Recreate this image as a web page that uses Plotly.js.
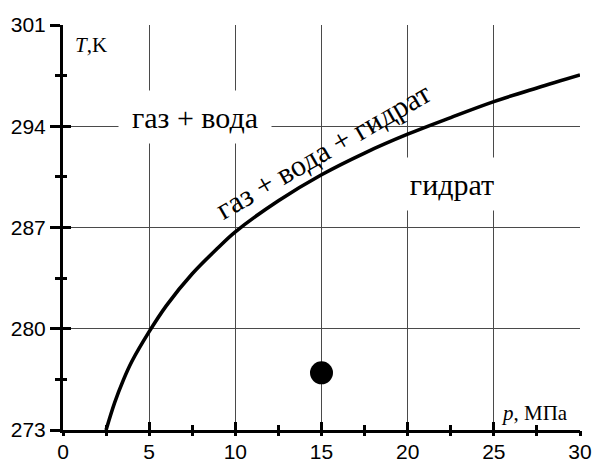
<!DOCTYPE html>
<html><head><meta charset="utf-8">
<script src="https://cdn.plot.ly/plotly-3.0.1.min.js"></script>
<style>html,body{margin:0;padding:0;background:#fff}#plot{width:592px;height:463px}</style>
</head><body><div id="plot"></div>
<script>
// Equilibrium curve gas + water + hydrate
const pressure = [2.5, 3, 3.5, 4, 5, 6, 7.5, 9, 10, 12.5, 15, 17.5, 20, 22.5, 25, 27.5, 30];
const temperature = [273, 274.9, 276.45, 277.75, 279.8, 281.6, 283.8, 285.6, 286.7, 288.85, 290.65, 292.15, 293.45, 294.6, 295.7, 296.65, 297.55];
// state point
const pointP = [15];
const pointT = [276.95];
// ticks
const xTicks = [0, 5, 10, 15, 20, 25, 30];
const yTicks = [273, 280, 287, 294, 301];
// region labels
const labelGasWater = 'газ + вода';
const labelHydrate = 'гидрат';
const labelCurve = 'газ + вода + гидрат';
const labelY = '<i>T</i>,K';
const labelX = '<i>p</i>, МПа';

const serif = 'Liberation Serif';
const sans = 'Liberation Sans';

const traces = [
  {x: pressure, y: temperature, type: 'scatter', mode: 'lines',
   line: {color: '#000', width: 3.6, shape: 'spline', smoothing: 1}, hoverinfo: 'skip'},
  {x: pointP, y: pointT, type: 'scatter', mode: 'markers',
   marker: {color: '#000', size: 23}, hoverinfo: 'skip'},
  {x: pointP, y: pointT, xaxis: 'x2', yaxis: 'y2', type: 'scatter', mode: 'markers',
   marker: {opacity: 0}, hoverinfo: 'skip'}
];

const xr = [0, 30], yr = [273, 301];
const layout = {
  width: 592, height: 463,
  margin: {l: 63, r: 12, t: 25, b: 33},
  paper_bgcolor: '#fff', plot_bgcolor: '#fff',
  showlegend: false,
  xaxis: {range: xr, tickvals: xTicks, ticktext: xTicks.map(String),
    showgrid: true, gridcolor: '#4a4a4a', gridwidth: 1, zeroline: false,
    showline: true, linecolor: '#000', linewidth: 3,
    ticks: 'inside', ticklen: 8, tickwidth: 3, tickcolor: '#000',
    minor: {dtick: 2.5, ticks: 'inside', ticklen: 5, tickwidth: 3, tickcolor: '#000', showgrid: false},
    ticklabelstandoff: 1,
    tickfont: {family: sans, size: 21, color: '#000'}},
  yaxis: {range: yr, tickvals: yTicks, ticktext: yTicks.map(String),
    showgrid: true, gridcolor: '#4a4a4a', gridwidth: 1, zeroline: false,
    showline: true, linecolor: '#000', linewidth: 3,
    ticks: 'outside', ticklen: 10, tickwidth: 3, tickcolor: '#000',
    minor: {dtick: 3.5, ticks: 'outside', ticklen: 5, tickwidth: 3, tickcolor: '#000', showgrid: false},
    tickfont: {family: sans, size: 21, color: '#000'}},
  xaxis2: {overlaying: 'x', anchor: 'y2', range: xr, tickvals: xTicks, showticklabels: false,
    showgrid: false, zeroline: false, showline: false,
    ticks: 'outside', ticklen: 5, tickwidth: 3, tickcolor: '#000',
    minor: {dtick: 2.5, ticks: 'outside', ticklen: 5, tickwidth: 3, tickcolor: '#000', showgrid: false}},
  yaxis2: {overlaying: 'y', anchor: 'x2', range: yr, tickvals: yTicks, showticklabels: false,
    showgrid: false, zeroline: false, showline: false,
    ticks: 'inside', ticklen: 8, tickwidth: 3, tickcolor: '#000',
    minor: {dtick: 3.5, ticks: 'inside', ticklen: 4, tickwidth: 3, tickcolor: '#000', showgrid: false}},
  annotations: [
    {x: 7.66, y: 294.67, xref: 'x', yref: 'y', text: labelGasWater, showarrow: false,
     font: {family: serif, size: 30, color: '#000'}, bgcolor: '#fff', width: 150, height: 50, borderpad: 1},
    {x: 22.6, y: 290.0, xref: 'x', yref: 'y', text: labelHydrate, showarrow: false,
     font: {family: serif, size: 30, color: '#000'}, bgcolor: '#fff', width: 106, height: 50, borderpad: 1},
    {x: 15.1, y: 292.3, xref: 'x', yref: 'y', text: labelCurve, showarrow: false, textangle: -30,
     font: {family: serif, size: 30, color: '#000'}},
    {x: 1.62, y: 299.6, xref: 'x', yref: 'y', text: labelY, showarrow: false,
     font: {family: serif, size: 21, color: '#000'}},
    {x: 27.35, y: 274.2, xref: 'x', yref: 'y', text: labelX, showarrow: false,
     font: {family: serif, size: 21, color: '#000'}}
  ]
};
Plotly.newPlot('plot', traces, layout, {staticPlot: true, displayModeBar: false});
</script></body></html>
